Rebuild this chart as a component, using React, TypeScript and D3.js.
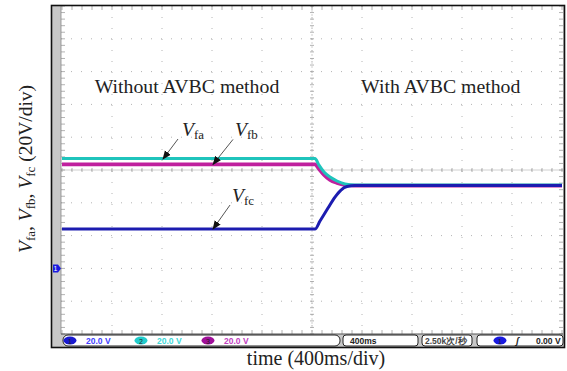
import * as d3 from "d3";

// time in ms (400ms/div, 10 div), voltage in V (20V/div)
const cyanT = [0, 2024, 2056, 2096, 2144, 2200, 2264, 2344, 4000];
const cyanV = [67.0, 67.0, 63.0, 58.8, 55.7, 53.3, 51.5, 50.9, 50.9];
const magentaT = [0, 2024, 2056, 2096, 2144, 2200, 2264, 2344, 4000];
const magentaV = [63.4, 63.4, 60.6, 57.0, 53.9, 52.1, 50.9, 50.5, 50.5];
const blueT = [0, 2024, 2064, 2128, 2184, 2232, 2280, 2344, 4000];
const blueV = [24.0, 24.0, 28.9, 36.8, 43.5, 47.8, 49.9, 50.5, 50.5];

const regionLabels = ["Without AVBC method", "With AVBC method"];
const regionCenters = [1000, 3030];
const chScale = ["20.0 V", "20.0 V", "20.0 V"];
const chColors = ["#1a1ad0", "#22cccc", "#a0109a"];
const chText = ["#4040ff", "#40d8d8", "#c040c0"];

// annotation arrows: tip on the trace (time, volt)
const annNames = ["fa", "fb", "fc"];
const annTipT = [808, 1208, 1208];
const annTipV = [66.7, 63.4, 24.0];

const W = 567;
const H = 371;

export default function App() {
  const x = d3.scaleLinear().domain([0, 4000]).range([62, 562]);
  const y = d3.scaleLinear().domain([-40, 160]).range([334, 6]);

  const line = d3
    .line<[number, number]>()
    .x((d) => x(d[0]))
    .y((d) => y(d[1]))
    .curve(d3.curveMonotoneX);

  const xMajor = d3.range(0, 4001, 400);
  const yMajor = d3.range(-40, 161, 20);
  const xMinor = d3.range(0, 4001, 80);
  const yMinor = d3.range(-40, 161, 4);

  const traces = [
    { t: magentaT, v: magentaV, c: "#c0209e", w: 3.6 },
    { t: cyanT, v: cyanV, c: "#1fc4bc", w: 3 },
    { t: blueT, v: blueV, c: "#1c1cb0", w: 3 },
  ];

  const serif = "'Liberation Serif', 'Times New Roman', serif";
  const sans = "'Liberation Sans', Arial, sans-serif";

  return (
    <svg width={W} height={H} style={{ position: "absolute", left: 0, top: 0, background: "#fff" }}>
      {/* scope frame */}
      <rect x={52} y={6} width={512} height={341} fill="#c8c8c8" />
      <rect x={61} y={6} width={502} height={328} fill="#fff" />

      {/* dotted grid */}
      {xMajor.slice(1, -1).map((t) => (
        <line key={"gx" + t} x1={x(t)} x2={x(t)} y1={6} y2={334} stroke="#b4b4b4" strokeWidth={1} strokeDasharray="1,10" />
      ))}
      {yMajor.slice(1, -1).map((v) => (
        <line key={"gy" + v} x1={61} x2={563} y1={y(v)} y2={y(v)} stroke="#b4b4b4" strokeWidth={1} strokeDasharray="1,9" />
      ))}

      {/* centre cross with minor ticks */}
      <line x1={61} x2={563} y1={y(60)} y2={y(60)} stroke="#c4c4c4" strokeWidth={0.8} />
      <line x1={x(2000)} x2={x(2000)} y1={6} y2={334} stroke="#c4c4c4" strokeWidth={0.8} strokeDasharray="2,2" />
      {xMinor.map((t) => (
        <g key={"mx" + t} stroke="#a0a0a0" strokeWidth={0.8}>
          <line x1={x(t)} x2={x(t)} y1={y(60) - 2} y2={y(60) + 2} />
          <line x1={x(t)} x2={x(t)} y1={334} y2={330} />
          <line x1={x(t)} x2={x(t)} y1={6} y2={10} />
        </g>
      ))}
      {yMinor.map((v) => (
        <g key={"my" + v} stroke="#a0a0a0" strokeWidth={0.8}>
          <line x1={x(2000) - 2} x2={x(2000) + 2} y1={y(v)} y2={y(v)} />
          <line x1={61} x2={65} y1={y(v)} y2={y(v)} />
          <line x1={563} x2={559} y1={y(v)} y2={y(v)} />
        </g>
      ))}
      <line x1={61} x2={61} y1={6} y2={334} stroke="#888" strokeWidth={0.8} />
      <line x1={61} x2={563} y1={334} y2={334} stroke="#555" strokeWidth={1} />

      {/* traces */}
      {traces.map((tr, i) => (
        <path
          key={"tr" + i}
          d={line(tr.t.map((t, j) => [t, tr.v[j]] as [number, number])) ?? ""}
          fill="none"
          stroke={tr.c}
          strokeWidth={tr.w}
        />
      ))}

      {/* channel 1 ground marker */}
      <path
        d={`M53,${y(0) - 4} L58,${y(0) - 4} L61,${y(0)} L58,${y(0) + 4} L53,${y(0) + 4} Z`}
        fill="#1a1ae0"
      />
      <text x={55.5} y={y(0) + 3} fontSize={7} fontFamily={sans} fill="#fff" textAnchor="middle">1</text>

      {/* status bar */}
      <rect x={63} y={335} width={277} height={11} rx={5} fill="#fff" stroke="#222" strokeWidth={1} />
      <rect x={343} y={335} width={75} height={11} rx={3} fill="#fff" stroke="#222" strokeWidth={1} />
      <rect x={422} y={335} width={50} height={11} rx={3} fill="#fff" stroke="#222" strokeWidth={1} />
      <rect x={477} y={335} width={86} height={11} rx={3} fill="#fff" stroke="#222" strokeWidth={1} />
      {chScale.map((s, i) => {
        const cx = [70, 141, 208][i];
        return (
          <g key={"ch" + i}>
            <ellipse cx={cx} cy={340.5} rx={6.5} ry={4} fill={chColors[i]} />
            <text x={cx} y={343.5} fontSize={7} fontFamily={sans} textAnchor="middle" fill="#222">{i + 1}</text>
            <text x={cx + 16} y={343.7} fontSize={8.5} fontWeight="bold" fontFamily={sans} fill={chText[i]}>{s}</text>
          </g>
        );
      })}
      <text x={350} y={343.7} fontSize={8.5} fontWeight="bold" fontFamily={sans} fill="#222">400ms</text>
      <text x={425} y={343.7} fontSize={8.5} fontWeight="bold" fontFamily={sans} fill="#444">2.50k次/秒</text>
      <ellipse cx={500} cy={340.5} rx={6.5} ry={4} fill="#1a1ae0" />
      <text x={500} y={343.5} fontSize={7} fontFamily={sans} textAnchor="middle" fill="#222">1</text>
      <text x={516} y={344} fontSize={9} fontStyle="italic" fontWeight="bold" fontFamily={sans} fill="#222">ʃ</text>
      <text x={536} y={343.7} fontSize={8.5} fontWeight="bold" fontFamily={sans} fill="#222">0.00 V</text>

      <rect x={51.5} y={5.5} width={513} height={342} fill="none" stroke="#111" strokeWidth={1.6} />

      {/* region captions */}
      {regionLabels.map((s, i) => (
        <text key={s} x={x(regionCenters[i])} y={93} fontSize={19.8} fontFamily={serif} textAnchor="middle" fill="#222">
          {s}
        </text>
      ))}

      {/* arrows + labels */}
      <defs>
        <marker id="ah" viewBox="0 0 10 10" refX={9} refY={5} markerWidth={9} markerHeight={9} markerUnits="userSpaceOnUse" orient="auto">
          <path d="M0,1 L10,5 L0,9 Z" fill="#111" />
        </marker>
      </defs>
      {annNames.map((n, i) => {
        const tx = x(annTipT[i]);
        const ty = y(annTipV[i]);
        const dx = i === 0 ? 15 : i === 1 ? 20 : 17;
        const dy = i === 0 ? -20 : i === 1 ? -25 : -24;
        const lx = tx + dx + (i === 0 ? 4 : 2);
        const ly = ty + dy - 3;
        return (
          <g key={n}>
            <line x1={tx + dx} y1={ty + dy} x2={tx} y2={ty} stroke="#555" strokeWidth={1} markerEnd="url(#ah)" />
            <text x={lx} y={ly} fontFamily={serif} fill="#222">
              <tspan fontSize={19.5} fontStyle="italic">V</tspan>
              <tspan fontSize={13} dy={3}>{n}</tspan>
            </text>
          </g>
        );
      })}

      {/* axis titles */}
      <text transform="translate(32,253) rotate(-90)" fontFamily={serif} fill="#222" fontSize={19.5}>
        <tspan fontStyle="italic">V</tspan>
        <tspan fontSize={13} dy={3}>fa</tspan>
        <tspan dy={-3}>, </tspan>
        <tspan fontStyle="italic">V</tspan>
        <tspan fontSize={13} dy={3}>fb</tspan>
        <tspan dy={-3}>, </tspan>
        <tspan fontStyle="italic">V</tspan>
        <tspan fontSize={13} dy={3}>fc</tspan>
        <tspan dy={-3}> (20V/div)</tspan>
      </text>
      <text x={316} y={365} fontFamily={serif} fontSize={20} textAnchor="middle" fill="#222">
        time (400ms/div)
      </text>
    </svg>
  );
}
